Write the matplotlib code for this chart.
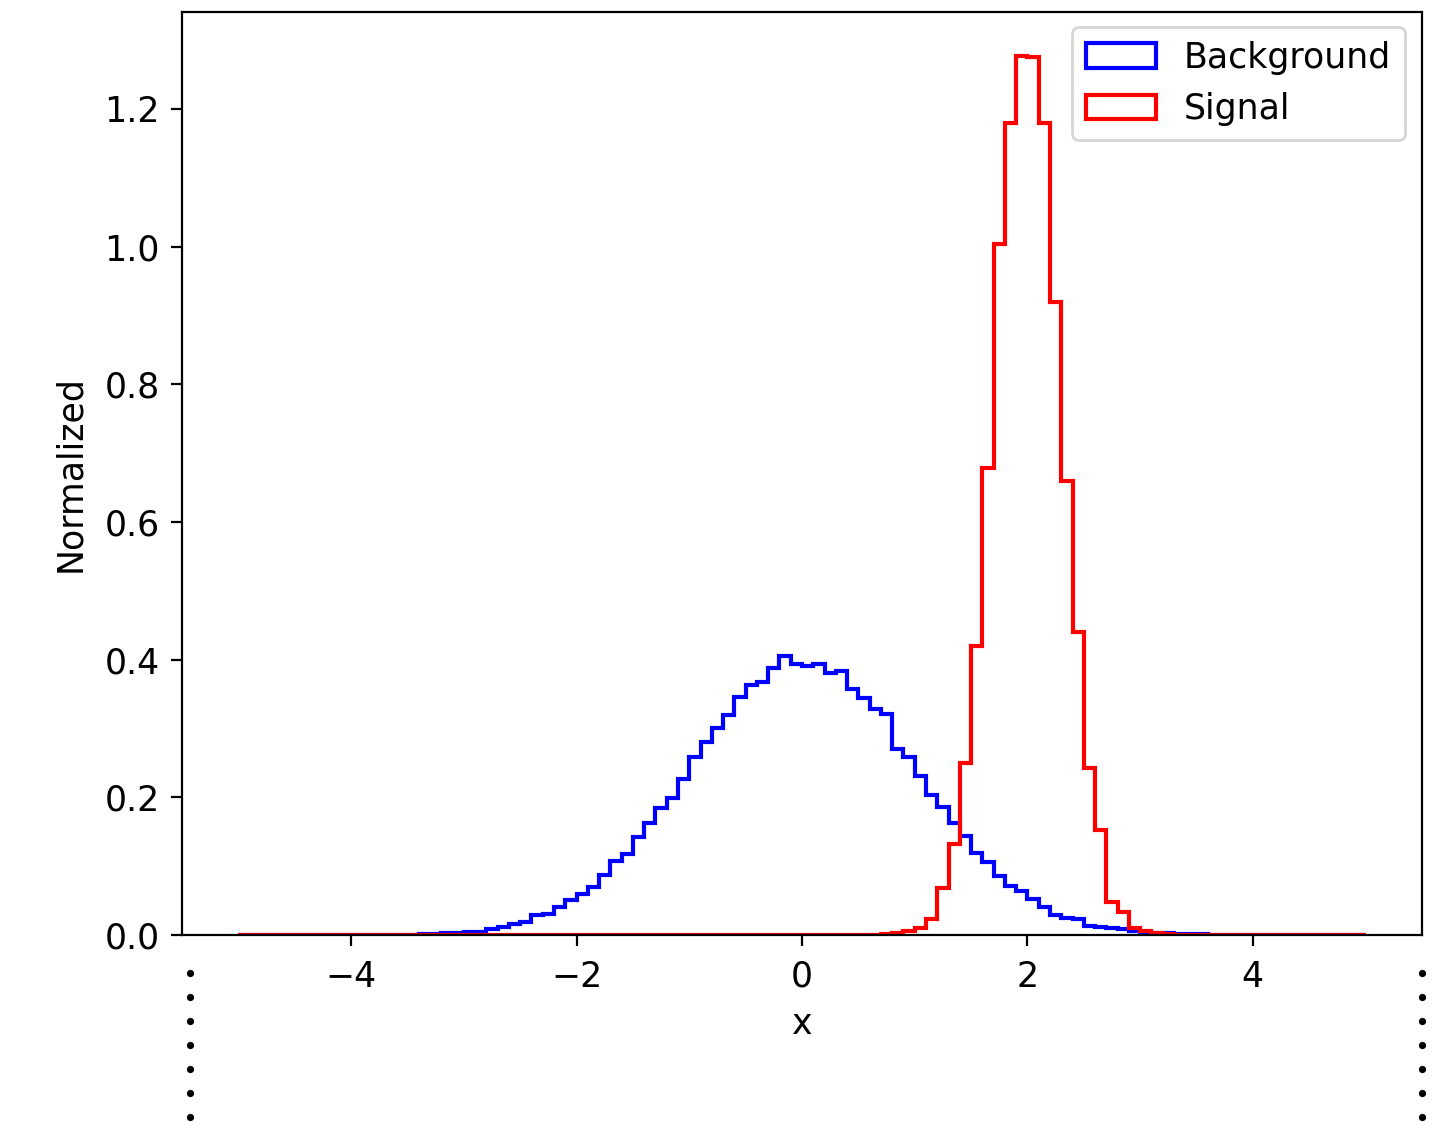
import numpy as np
import matplotlib
matplotlib.use('Agg')
import matplotlib.pyplot as plt
from matplotlib.lines import Line2D

# histogram binning (100 bins over [-5, 5])
x_min = -5.0
x_max = 5.0
n_bins = 100

# normalized bin contents, left edge -5.0 ... 4.9
background = [
    0, 0, 0, 0, 0, 0.00002, 0.00002, 0.00004, 0.00006, 0.00008,
    0.0001, 0.00015, 0.0002, 0.0003, 0.0004, 0.0006, 0.0008, 0.0017, 0.0022, 0.0030,
    0.0040, 0.0050, 0.0080, 0.012, 0.016, 0.019, 0.029, 0.030, 0.040, 0.051,
    0.060, 0.070, 0.087, 0.107, 0.117, 0.142, 0.163, 0.184, 0.199, 0.227,
    0.258, 0.280, 0.300, 0.320, 0.346, 0.363, 0.368, 0.388, 0.405, 0.394,
    0.391, 0.394, 0.381, 0.384, 0.358, 0.345, 0.328, 0.321, 0.270, 0.258,
    0.231, 0.203, 0.186, 0.162, 0.144, 0.119, 0.106, 0.085, 0.071, 0.064,
    0.053, 0.041, 0.029, 0.025, 0.023, 0.0135, 0.0116, 0.010, 0.0082, 0.0058,
    0.0050, 0.0030, 0.0030, 0.0015, 0.0012, 0.0008, 0.0006, 0.0004, 0.0003, 0.0002,
    0.0001, 0.0001, 0.00005, 0.00004, 0.00003, 0.00002, 0.00001, 0, 0, 0,
]

signal = [
    0, 0, 0, 0, 0, 0, 0, 0, 0, 0,
    0, 0, 0, 0, 0, 0, 0, 0, 0, 0,
    0, 0, 0, 0, 0, 0, 0, 0, 0, 0,
    0, 0, 0, 0, 0, 0, 0, 0, 0, 0,
    0, 0, 0, 0, 0, 0, 0, 0, 0, 0,
    0, 0, 0, 0, 0, 0, 0.0005, 0.001, 0.0034, 0.006,
    0.0097, 0.023, 0.068, 0.132, 0.250, 0.420, 0.678, 1.004, 1.179, 1.277,
    1.275, 1.179, 0.920, 0.659, 0.440, 0.242, 0.153, 0.048, 0.033, 0.010,
    0.006, 0.003, 0.001, 0.0005, 0, 0, 0, 0, 0, 0,
    0, 0, 0, 0, 0, 0, 0, 0, 0, 0,
]


def main():
    edges = np.linspace(x_min, x_max, n_bins + 1)
    centers = 0.5 * (edges[:-1] + edges[1:])

    plt.rcParams['font.size'] = 12.5
    plt.rcParams['xtick.major.pad'] = 5.1
    plt.rcParams['ytick.major.pad'] = 4.2
    plt.rcParams['xtick.major.size'] = 3.8
    plt.rcParams['ytick.major.size'] = 3.8

    fig = plt.figure(figsize=(7.17, 5.625), dpi=200)
    ax = fig.add_axes([0.1269, 0.1689, 0.8647, 0.8204])

    ax.hist(centers, bins=edges, weights=background, histtype='step',
            color='blue', linewidth=1.5, label='Background')
    ax.hist(centers, bins=edges, weights=signal, histtype='step',
            color='red', linewidth=1.5, label='Signal')

    ax.set_xlabel('x', labelpad=4.7)
    ax.set_ylabel('Normalized', labelpad=6.2)
    ax.legend(loc='upper right', bbox_to_anchor=(1.0, 1.003))

    # dotted marks below the axes (edge of a panel cut off in the original)
    dot_y = 1 - np.linspace(973, 1117, 7) / 1125
    for xf in (190 / 1434, 1422 / 1434):
        fig.add_artist(Line2D([xf] * len(dot_y), dot_y,
                              transform=fig.transFigure, color='black',
                              linestyle='none', marker='o', markersize=2.6,
                              markeredgewidth=0))

    fig.savefig('out.png', dpi=200)


if __name__ == '__main__':
    main()
